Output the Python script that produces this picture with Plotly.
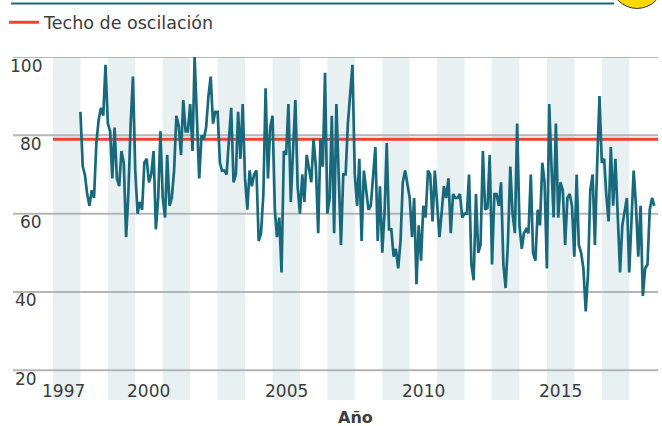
import pandas as pd
import plotly.graph_objects as go

values = [
86,72,70,65,62,66,64,78,84,87,85,98,83,81,69,82,69,67,76,73,54,65,83,95,71,60,63,61,73,74,68,70,76,56,64,81,
64,59,75,62,64,71,85,82.5,75,89,81,81,88,76,100,84,69,80,79,82,90,95,83,86,86,73,71,71,70,79,87,68,70,86,74,88,
69,61,71,67,70,71,53,55,65,92,69,82,85,61,54,59,45,76,75,88,63,76,89,67,60,70,63,75,71,68,79,72,55,79,72,96,60,
64,85,55,88,71,52,70,70,83,90,98,70,62,74,53,71,66,61,62,70,77,53,67,50,60.5,78,56,56,49,51,46,53,68,71,67,64,54,
64,42,57,48,62,59,71,70,58,71,62,54,60,67,64,69,55,65,64,64,65,59,60,60,70,47,43,65,50,52,76,61,61.5,75,47,65,
65,62,68,47,41,53,72,60,55,83,57,51,55,56,55,70,50,48,61,57,73,68,46,88,73,59,83,59,68,66,52,64,65,62,49,70,52,
50,46,35,44.5,66,70,52,73,90,73,74,65,58,77,62,74,60,45,57,60.5,64,45,60,71,62,49,62,39,46,47,61,64,62]
months = pd.date_range("1998-01-01", periods=len(values), freq="MS")
ceiling = [79, 79]
ceiling_x = ["1997-01-01", "2019-01-19"]
band_years = [1997, 1999, 2001, 2003, 2005, 2007, 2009, 2011, 2013, 2015, 2017]
y_ticks = [100, 80, 60, 40, 20]
x_tick_years = [1997, 2000, 2005, 2010, 2015]

TEAL = "#17697b"; RED = "#f4412f"; GRID = "#b3b5b6"; BAND = "#e8f0f2"; TXT = "#3c3c3c"
FONT = "DejaVu Sans"
L, R, T, B = 52, 658, 54, 400
px = lambda v: (v - L) / (R - L)
py = lambda v: (B - v) / (B - T)

shapes = []
for y in band_years:
    shapes.append(dict(type="rect", xref="x", yref="paper", x0=f"{y}-01-01", x1=f"{y+1}-01-01",
                       y0=0, y1=1, fillcolor=BAND, line_width=0, layer="below"))
for t in y_ticks:
    shapes.append(dict(type="line", xref="paper", yref="y", x0=px(12), x1=1, y0=t, y1=t,
                       line=dict(color=GRID, width=2), layer="below"))
shapes.append(dict(type="line", xref="paper", yref="paper", x0=px(10), x1=px(614), y0=py(0), y1=py(0),
                   line=dict(color=TEAL, width=2)))
shapes.append(dict(type="circle", xref="paper", yref="paper", x0=px(611), x1=px(663), y0=py(-47), y1=py(5),
                   fillcolor="#ffd800", line=dict(color="#333333", width=1)))

annotations = []
label_right = {100: 43, 80: 43, 60: 43, 40: 38, 20: 38}
for t in y_ticks:
    annotations.append(dict(text=str(t), xref="paper", yref="y", x=px(label_right[t]), y=t, xanchor="right",
                            yanchor="middle", yshift=-8.5, showarrow=False,
                            font=dict(family=FONT, size=17, color=TXT)))
for y in x_tick_years:
    annotations.append(dict(text=str(y), xref="x", yref="paper", x=f"{y}-07-01", y=py(391), xanchor="center",
                            yanchor="middle", xshift=-3 if y == 1997 else 0, showarrow=False,
                            font=dict(family=FONT, size=17, color=TXT)))
annotations.append(dict(text="<b>Año</b>", xref="paper", yref="paper", x=px(355), y=py(418), xanchor="center",
                        yanchor="middle", showarrow=False, font=dict(family=FONT, size=16, color=TXT)))

fig = go.Figure()
fig.add_trace(go.Scatter(x=ceiling_x, y=ceiling, mode="lines", name="Techo de oscilación",
                         line=dict(color=RED, width=3), showlegend=True, cliponaxis=False))
fig.add_trace(go.Scatter(x=months, y=values, mode="lines", name="Índice", showlegend=False,
                         line=dict(color=TEAL, width=2.7), cliponaxis=False))
fig.update_layout(
    width=662, height=426, autosize=False, plot_bgcolor="white", paper_bgcolor="white",
    margin=dict(l=L, r=662 - R, t=T, b=426 - B),
    shapes=shapes, annotations=annotations, hovermode=False,
    xaxis=dict(range=["1997-01-01", "2019-01-19"], showgrid=False, zeroline=False, showline=False,
               showticklabels=False, ticks=""),
    yaxis=dict(range=[20 - 30 / 3.95, 100], showgrid=False, zeroline=False, showline=False,
               showticklabels=False, ticks=""),
    showlegend=True,
    legend=dict(x=px(3), y=py(1), xanchor="left", yanchor="top", bgcolor="rgba(0,0,0,0)",
                font=dict(family=FONT, size=17.5, color=TXT)),
)
fig.write_html("out.html", config=dict(displayModeBar=False),
               post_script="document.body.style.margin='0';document.documentElement.style.overflow='hidden';")
